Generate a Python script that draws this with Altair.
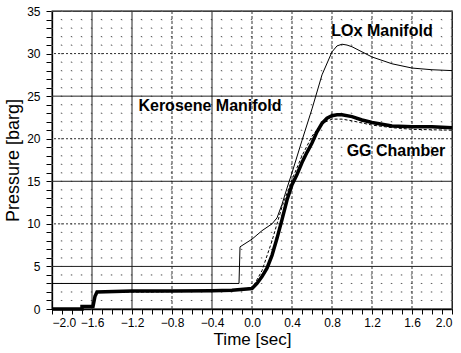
import altair as alt
import pandas as pd

# ---- data ----
gg_t = [-2.0, -1.70, -1.70, -1.59, -1.57, -1.55, -1.2, -0.8, -0.4, -0.2, 0.0, 0.05, 0.10, 0.15,
        0.20, 0.25, 0.30, 0.35, 0.40, 0.45, 0.50, 0.55, 0.60, 0.65, 0.70, 0.75, 0.80, 0.85,
        0.90, 1.0, 1.1, 1.2, 1.3, 1.4, 1.6, 1.8, 2.0]
gg_p = [0.0, 0.0, 0.3, 0.3, 1.5, 2.0, 2.1, 2.1, 2.15, 2.2, 2.4, 3.0, 3.8, 4.8,
        6.3, 8.3, 10.5, 12.8, 14.6, 15.8, 17.2, 18.4, 19.5, 20.8, 21.8, 22.4, 22.7, 22.8,
        22.8, 22.6, 22.2, 21.9, 21.7, 21.5, 21.4, 21.4, 21.3]

ker_t = [-1.56, -1.0, -0.5, 0.0, 0.1, 0.2, 0.3, 0.4, 0.5, 0.6, 0.7, 0.8, 0.9, 1.0,
         1.2, 1.4, 1.6, 2.0]
ker_p = [2.0, 2.0, 2.1, 2.4, 4.5, 8.0, 12.0, 15.2, 18.0, 20.3, 21.8, 22.3, 22.3, 22.1,
         21.6, 21.3, 21.1, 21.0]

lox_t = [-2.0, -0.13, -0.12, 0.0, 0.1, 0.2, 0.25, 0.3, 0.35, 0.4, 0.5, 0.6, 0.7, 0.8,
         0.85, 0.9, 0.95, 1.0, 1.1, 1.2, 1.4, 1.6, 1.8, 2.0]
lox_p = [3.0, 3.0, 7.3, 8.2, 9.2, 10.0, 10.7, 12.3, 14.2, 16.0, 19.8, 23.5, 27.5, 30.2,
         30.9, 31.1, 31.0, 30.8, 30.2, 29.6, 28.8, 28.3, 28.1, 28.0]

label_text = ["LOx Manifold", "Kerosene Manifold", "GG Chamber"]
label_t = [1.30, -0.42, 1.44]
label_p = [32.6, 23.8, 18.6]

x_ticks = [round(-2.0 + 0.1 * i, 1) for i in range(41)]
y_ticks = list(range(0, 36))
vgrid_solid = [-1.6, -1.2, -0.4]
vgrid_dash = [-0.8, 0.0, 0.4, 0.8, 1.2, 1.6]
hgrid_solid = [5, 15, 25]
hgrid_dot = [10, 20, 30]

FONT = "Liberation Sans"

xs = alt.Scale(domain=[-2.0, 2.0], nice=False, zero=False)
ys = alt.Scale(domain=[0, 35], nice=False, zero=False)

xaxis = alt.Axis(values=x_ticks, title="Time [sec]", grid=False,
                 labelExpr="abs(round(datum.value*10)) % 4 == 0 ? format(datum.value, '.1f') : ''",
                 tickSize=5, labelPadding=3, labelFontSize=12, titleFontSize=17,
                 titleFontWeight="normal", titlePadding=3, labelFont=FONT, titleFont=FONT,
                 domainColor="black", tickColor="black", labelColor="black",
                 titleColor="black", domainWidth=1.3, tickWidth=1)
yaxis = alt.Axis(values=y_ticks, title="Pressure [barg]", grid=False,
                 labelExpr="datum.value % 5 == 0 ? datum.value : ''",
                 tickSize=6, labelPadding=6, labelFontSize=12, titleFontSize=18,
                 titleFontWeight="normal", titlePadding=4, labelFont=FONT, titleFont=FONT,
                 domainColor="black", tickColor="black", labelColor="black",
                 titleColor="black", domainWidth=1.3, tickWidth=1)

X = lambda: alt.X("t:Q", scale=xs, axis=xaxis)
Y = lambda: alt.Y("p:Q", scale=ys, axis=yaxis)

df_vminor = pd.DataFrame({"t": x_ticks})
df_hminor = pd.DataFrame({"p": y_ticks})

minor_v = alt.Chart(df_vminor).mark_rule(color="#888", strokeWidth=0.8, strokeDash=[1, 7.5]).encode(x=X())
minor_h = alt.Chart(df_hminor).mark_rule(color="#555", strokeWidth=0.9, strokeDash=[1.2, 8.8]).encode(y=Y())

v_solid = alt.Chart(pd.DataFrame({"t": vgrid_solid})).mark_rule(color="#222", strokeWidth=1).encode(x=X())
v_dash = alt.Chart(pd.DataFrame({"t": vgrid_dash})).mark_rule(color="#333", strokeWidth=1, strokeDash=[3, 2]).encode(x=X())
h_solid = alt.Chart(pd.DataFrame({"p": hgrid_solid})).mark_rule(color="#222", strokeWidth=1).encode(y=Y())
h_dot = alt.Chart(pd.DataFrame({"p": hgrid_dot})).mark_rule(color="#333", strokeWidth=1, strokeDash=[2, 2]).encode(y=Y())

df_gg = pd.DataFrame({"t": gg_t, "p": gg_p, "o": range(len(gg_t))})
df_ker = pd.DataFrame({"t": ker_t, "p": ker_p, "o": range(len(ker_t))})
df_lox = pd.DataFrame({"t": lox_t, "p": lox_p, "o": range(len(lox_t))})

lox = alt.Chart(df_lox).mark_line(color="black", strokeWidth=1).encode(x=X(), y=Y(), order="o:Q")
ker = alt.Chart(df_ker).mark_line(color="black", strokeWidth=1, strokeDash=[3, 2]).encode(x=X(), y=Y(), order="o:Q")
gg = alt.Chart(df_gg).mark_line(color="black", strokeWidth=3.5).encode(x=X(), y=Y(), order="o:Q")

df_lab = pd.DataFrame({"t": label_t, "p": label_p, "txt": label_text})
labels = alt.Chart(df_lab).mark_text(font=FONT, fontSize=16, fontWeight="bold", color="black",
                                     align="center", baseline="middle").encode(x=X(), y=Y(), text="txt:N")

chart = alt.layer(minor_v, minor_h, v_solid, v_dash, h_solid, h_dot, lox, ker, gg, labels).properties(
    width=400, height=298,
    autosize=alt.AutoSizeParams(type="none"),
    padding={"left": 52, "top": 11, "right": 9, "bottom": 44},
    background="white",
).configure_view(stroke="black", strokeWidth=1.3)

chart.save("out.html", embed_options={"renderer": "svg", "actions": False})
